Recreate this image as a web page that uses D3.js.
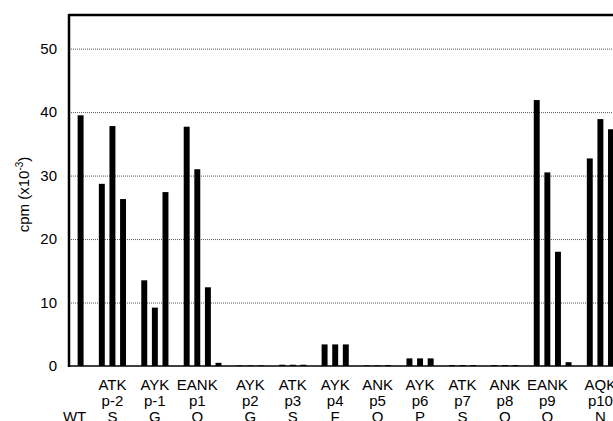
<!DOCTYPE html>
<html>
<head>
<meta charset="utf-8">
<script src="https://cdn.jsdelivr.net/npm/d3@7"></script>
<style>
  body { margin: 0; background: #fff; }
  text { font-family: "Liberation Sans", Arial, sans-serif; fill: #000; }
</style>
</head>
<body>
<div class="chart"></div>
<script>
// Data
const wtValue = 39.5;
const groupMotifs = ["ATK", "AYK", "EANK", "AYK", "ATK", "AYK", "ANK", "AYK", "ATK", "ANK", "EANK", "AQK"];
const groupPositions = ["p-2", "p-1", "p1", "p2", "p3", "p4", "p5", "p6", "p7", "p8", "p9", "p10"];
const groupResidues = ["S", "G", "Q", "G", "S", "F", "Q", "P", "S", "Q", "Q", "N"];
const groupValues = [
  [28.7, 37.8, 26.3],
  [13.5, 9.2, 27.4],
  [37.7, 31.0, 12.4, 0.5],
  [0.1, 0.1, 0.1],
  [0.2, 0.2, 0.2],
  [3.4, 3.4, 3.4],
  [0.1, 0.1, 0.15],
  [1.2, 1.2, 1.2],
  [0.15, 0.15, 0.15],
  [0.15, 0.15, 0.15],
  [41.9, 30.5, 18.0, 0.6],
  [32.7, 38.9, 37.3]
];
const yTicks = [0, 10, 20, 30, 40, 50];

const W = 613, H = 421;
const M = { left: 69, top: 15, bottom: 366, right: 660 };

const svg = d3.select(".chart").append("svg").attr("width", W).attr("height", H);

// Bars sit in equal slots: WT, gap, then each group's bars followed by a gap
const bars = [{ slot: 0, value: wtValue }];
const groups = [];
let cursor = 2;
groupValues.forEach((vals, i) => {
  groups.push({ motif: groupMotifs[i], pos: groupPositions[i], res: groupResidues[i], center: cursor + 1 });
  vals.forEach((v, j) => bars.push({ slot: cursor + j, value: v }));
  cursor += vals.length + 1;
});

const xScale = d3.scaleLinear().domain([-1, 50]).range([70, 611]);
const slotW = xScale(1) - xScale(0);
const yScale = d3.scaleLinear().domain([0, 55.3]).range([M.bottom, M.top]);

// Grid
const yGrid = svg.append("g")
  .attr("transform", `translate(${M.left}, 0)`)
  .call(d3.axisLeft(yScale).tickValues(yTicks.slice(1)).tickSize(-(M.right - M.left)).tickFormat(""));
yGrid.select(".domain").remove();
yGrid.selectAll(".tick line").attr("stroke", "#555").attr("stroke-dasharray", "1,1");

// Y axis labels
const yAxis = svg.append("g")
  .attr("transform", `translate(${M.left}, 0)`)
  .call(d3.axisLeft(yScale).tickValues(yTicks).tickSize(0).tickPadding(12));
yAxis.select(".domain").remove();
yAxis.selectAll(".tick text").attr("font-size", 15).attr("font-family", "Liberation Sans, Arial, sans-serif");

svg.append("text")
  .attr("transform", `translate(29, ${(M.top + M.bottom) / 2 + 4}) rotate(-90)`)
  .attr("text-anchor", "middle")
  .attr("font-size", 15)
  .html('cpm (x10<tspan dy="-6" font-size="10">-3</tspan><tspan dy="6">)</tspan>');

// Bars
svg.append("g").selectAll("rect")
  .data(bars)
  .join("rect")
  .attr("x", d => xScale(d.slot) - slotW * 0.28)
  .attr("width", slotW * 0.56)
  .attr("y", d => yScale(d.value))
  .attr("height", d => yScale(0) - yScale(d.value))
  .attr("fill", "#000");

// Frame: top border, left axis, baseline
svg.append("line").attr("x1", M.left).attr("x2", W).attr("y1", M.top).attr("y2", M.top)
  .attr("stroke", "#000").attr("stroke-width", 2.5);
svg.append("line").attr("x1", M.left).attr("x2", M.left).attr("y1", M.top - 1).attr("y2", M.bottom + 1)
  .attr("stroke", "#000").attr("stroke-width", 2.5);
svg.append("line").attr("x1", M.left).attr("x2", W).attr("y1", M.bottom).attr("y2", M.bottom)
  .attr("stroke", "#000").attr("stroke-width", 1.5);

// Category labels
const lab = svg.append("g").attr("font-size", 15).attr("text-anchor", "middle");
groups.forEach(g => {
  const x = xScale(g.center);
  lab.append("text").attr("x", x).attr("y", 390).text(g.motif);
  lab.append("text").attr("x", x).attr("y", 406).text(g.pos);
  lab.append("text").attr("x", x).attr("y", 422).text(g.res);
});
lab.append("text").attr("x", xScale(0) - 6).attr("y", 422).text("WT");
</script>
</body>
</html>
